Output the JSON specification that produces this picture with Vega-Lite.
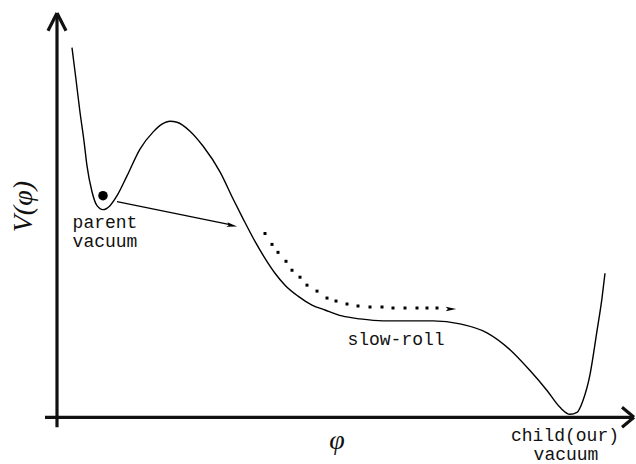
{
  "$schema": "https://vega.github.io/schema/vega-lite/v6.json",
  "width": 636,
  "height": 464,
  "autosize": {"type": "fit", "contains": "padding"},
  "padding": 0,
  "background": "white",
  "config": {"view": {"stroke": null}},
  "datasets": {
    "curve": [
      {"phi": 72, "V": 48}, {"phi": 76, "V": 80}, {"phi": 80, "V": 113}, {"phi": 84, "V": 142},
      {"phi": 87, "V": 167}, {"phi": 92, "V": 193}, {"phi": 97, "V": 207}, {"phi": 103, "V": 211},
      {"phi": 110, "V": 207}, {"phi": 117, "V": 197}, {"phi": 127, "V": 177}, {"phi": 140, "V": 150},
      {"phi": 153, "V": 133}, {"phi": 162, "V": 125}, {"phi": 170, "V": 122}, {"phi": 177, "V": 123},
      {"phi": 190, "V": 132}, {"phi": 203, "V": 147}, {"phi": 220, "V": 173}, {"phi": 233, "V": 200},
      {"phi": 243, "V": 220}, {"phi": 255, "V": 243}, {"phi": 265, "V": 260}, {"phi": 275, "V": 275},
      {"phi": 285, "V": 287}, {"phi": 298, "V": 298}, {"phi": 312, "V": 307}, {"phi": 325, "V": 312},
      {"phi": 342, "V": 318}, {"phi": 360, "V": 321}, {"phi": 383, "V": 323}, {"phi": 410, "V": 323},
      {"phi": 433, "V": 323}, {"phi": 460, "V": 326}, {"phi": 487, "V": 335}, {"phi": 510, "V": 352},
      {"phi": 530, "V": 373}, {"phi": 547, "V": 393}, {"phi": 560, "V": 410}, {"phi": 570, "V": 417},
      {"phi": 577, "V": 415}, {"phi": 583, "V": 403}, {"phi": 590, "V": 377}, {"phi": 597, "V": 333},
      {"phi": 602, "V": 300}, {"phi": 605, "V": 275}
    ],
    "axes": [
      {"x": 57, "y": 430, "x2": 57, "y2": 14},
      {"x": 45, "y": 420, "x2": 633, "y2": 420},
      {"x": 48, "y": 31, "x2": 57, "y2": 13},
      {"x": 66, "y": 31, "x2": 57, "y2": 13},
      {"x": 622, "y": 410, "x2": 634, "y2": 420},
      {"x": 622, "y": 430, "x2": 634, "y2": 420}
    ],
    "arrow": [
      {"x": 117, "y": 203, "x2": 230, "y2": 226}
    ],
    "heads": [
      {"x": 232, "y": 227, "dir": 11.8},
      {"x": 451, "y": 311, "dir": 0}
    ],
    "ball": [
      {"x": 103, "y": 197}
    ],
    "dots": [
      {"x": 265, "y": 235}, {"x": 272, "y": 246}, {"x": 278, "y": 254}, {"x": 286, "y": 263},
      {"x": 292, "y": 272}, {"x": 300, "y": 279}, {"x": 307, "y": 287}, {"x": 317, "y": 293},
      {"x": 327, "y": 300}, {"x": 336, "y": 303}, {"x": 347, "y": 306}, {"x": 358, "y": 308},
      {"x": 370, "y": 309}, {"x": 382, "y": 309}, {"x": 393, "y": 310}, {"x": 405, "y": 310},
      {"x": 417, "y": 310}, {"x": 427, "y": 310}, {"x": 437, "y": 310}
    ],
    "mono": [
      {"x": 105, "y": 229, "label": "parent"},
      {"x": 105, "y": 249, "label": "vacuum"},
      {"x": 396, "y": 347, "label": "slow-roll"},
      {"x": 565, "y": 444, "label": "child(our)"},
      {"x": 566, "y": 463, "label": "vacuum"}
    ],
    "xlab": [
      {"x": 337, "y": 452, "label": "φ"}
    ],
    "ylab": [
      {"x": 32, "y": 208, "label": "V(φ)"}
    ]
  },
  "layer": [
    {
      "data": {"name": "curve"},
      "mark": {"type": "line", "interpolate": "monotone", "color": "black", "strokeWidth": 1.4},
      "encoding": {
        "x": {"field": "phi", "type": "quantitative", "scale": {"domain": [0, 636], "nice": false, "zero": false}, "axis": null},
        "y": {"field": "V", "type": "quantitative", "scale": {"domain": [0, 464], "nice": false, "zero": false, "reverse": true}, "axis": null}
      }
    },
    {
      "data": {"name": "axes"},
      "mark": {"type": "rule", "color": "#111", "strokeWidth": 3.2, "strokeCap": "butt"},
      "encoding": {
        "x": {"field": "x", "type": "quantitative"},
        "y": {"field": "y", "type": "quantitative"},
        "x2": {"field": "x2"},
        "y2": {"field": "y2"}
      }
    },
    {
      "data": {"name": "arrow"},
      "mark": {"type": "rule", "color": "black", "strokeWidth": 1.3},
      "encoding": {
        "x": {"field": "x", "type": "quantitative"},
        "y": {"field": "y", "type": "quantitative"},
        "x2": {"field": "x2"},
        "y2": {"field": "y2"}
      }
    },
    {
      "data": {"name": "heads"},
      "mark": {"type": "point", "shape": "M -1 -0.45 L 1 0 L -1 0.45 L -0.6 0 Z", "filled": true, "color": "black", "size": 110, "opacity": 1},
      "encoding": {
        "x": {"field": "x", "type": "quantitative"},
        "y": {"field": "y", "type": "quantitative"},
        "angle": {"field": "dir", "type": "quantitative", "scale": null}
      }
    },
    {
      "data": {"name": "ball"},
      "mark": {"type": "point", "shape": "circle", "filled": true, "color": "black", "size": 90, "opacity": 1},
      "encoding": {
        "x": {"field": "x", "type": "quantitative"},
        "y": {"field": "y", "type": "quantitative"}
      }
    },
    {
      "data": {"name": "dots"},
      "mark": {"type": "point", "shape": "square", "filled": true, "color": "black", "size": 9, "opacity": 1},
      "encoding": {
        "x": {"field": "x", "type": "quantitative"},
        "y": {"field": "y", "type": "quantitative"}
      }
    },
    {
      "data": {"name": "mono"},
      "mark": {"type": "text", "font": "Liberation Mono", "fontSize": 18, "color": "#111", "baseline": "alphabetic", "align": "center"},
      "encoding": {
        "x": {"field": "x", "type": "quantitative"},
        "y": {"field": "y", "type": "quantitative"},
        "text": {"field": "label"}
      }
    },
    {
      "data": {"name": "xlab"},
      "mark": {"type": "text", "font": "Liberation Serif", "fontStyle": "italic", "fontSize": 28, "color": "#111", "baseline": "alphabetic", "align": "center"},
      "encoding": {
        "x": {"field": "x", "type": "quantitative"},
        "y": {"field": "y", "type": "quantitative"},
        "text": {"field": "label"}
      }
    },
    {
      "data": {"name": "ylab"},
      "mark": {"type": "text", "font": "Liberation Serif", "fontStyle": "italic", "fontSize": 28, "color": "#111", "baseline": "alphabetic", "align": "center", "angle": 270},
      "encoding": {
        "x": {"field": "x", "type": "quantitative"},
        "y": {"field": "y", "type": "quantitative"},
        "text": {"field": "label"}
      }
    }
  ]
}
